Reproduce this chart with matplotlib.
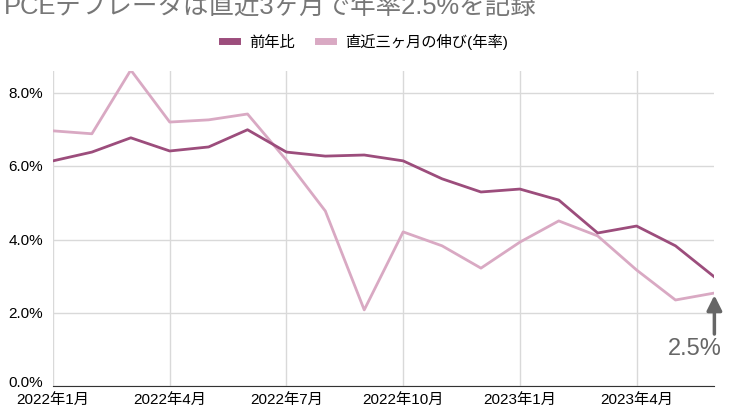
import matplotlib.pyplot as plt
import numpy as np

plt.rcParams['font.family'] = ['Liberation Sans', 'Noto Sans CJK JP', 'DejaVu Sans']

months = ["2022年1月", "2022年2月", "2022年3月", "2022年4月", "2022年5月", "2022年6月",
          "2022年7月", "2022年8月", "2022年9月", "2022年10月", "2022年11月", "2022年12月",
          "2023年1月", "2023年2月", "2023年3月", "2023年4月", "2023年5月", "2023年6月"]
yoy = [6.15, 6.39, 6.78, 6.42, 6.53, 7.00, 6.39, 6.28, 6.31, 6.15, 5.66, 5.30,
       5.38, 5.08, 4.18, 4.37, 3.83, 2.98]
three_month = [6.97, 6.89, 8.63, 7.21, 7.27, 7.43, 6.17, 4.78, 2.08, 4.21, 3.83, 3.22,
               3.93, 4.51, 4.10, 3.17, 2.35, 2.54]
yticks = [0, 2, 4, 6, 8]

dark = "#9c4d7c"
light = "#d9a9c3"

fig = plt.figure(figsize=(7.3, 4.1), dpi=100)
ax = fig.add_axes([0.0726, 0.056, 0.906, 0.768])
x = np.arange(len(months))

ax.plot(x, yoy, color=dark, lw=2, label="前年比", zorder=3)
ax.plot(x, three_month, color=light, lw=2, label="直近三ヶ月の伸び(年率)", zorder=2)

ax.set_xlim(0, len(months) - 1)
ax.set_ylim(0, 8.6)
ax.set_yticks(yticks)
ax.set_yticklabels([f"{v:.1f}%" for v in yticks], fontsize=11)
ax.set_xticks(x[::3])
ax.set_xticklabels(months[::3], fontsize=11)
ax.tick_params(length=0)
ax.tick_params(axis="x", pad=4)
ax.tick_params(axis="y", pad=7)
for lbl in ax.get_yticklabels():
    lbl.set_va("baseline" if lbl.get_text() == "0.0%" else "center")
ax.grid(True, color="#d9d9d9", lw=1)
ax.set_axisbelow(True)
for s in ["top", "right", "left"]:
    ax.spines[s].set_visible(False)
ax.spines["bottom"].set_color("#333333")

# annotation for latest value
ax.annotate("", xy=(x[-1], three_month[-1] - 0.06), xytext=(x[-1], 1.42),
            arrowprops=dict(arrowstyle="-|>,head_width=0.45,head_length=0.9",
                            color="#666666", lw=2.5, shrinkA=0, shrinkB=0))
ax.text(x[-1] - 0.5, 1.05, "2.5%", color="#666666", fontsize=17,
        ha="center", va="center")

fig.text(0.005, 0.985, "PCEデフレータは直近3ヶ月で年率2.5%を記録", color="#777777",
         fontsize=18.4, ha="left", va="center")
fig.legend(loc="center", bbox_to_anchor=(0.5, 0.897), ncol=2, frameon=False,
           fontsize=11, handlelength=1.0, handleheight=0.5, columnspacing=1.5,
           handletextpad=0.8)
leg = fig.legends[0]
for h in leg.legend_handles:
    h.set_linewidth(5)

fig.savefig("out.png", dpi=100)
